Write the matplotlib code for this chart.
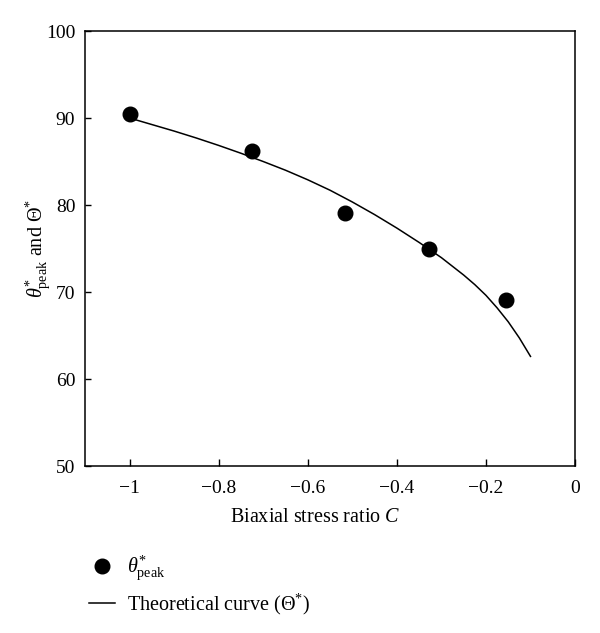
import numpy as np
import matplotlib
matplotlib.use("Agg")
import matplotlib.pyplot as plt

# measured peak angles
c_peak = [-1.0, -0.725, -0.516, -0.327, -0.156]
theta_peak = [90.5, 86.2, 79.1, 74.9, 69.1]

# theoretical curve
c_theory = [-1.0, -0.95, -0.9, -0.85, -0.8, -0.75, -0.7, -0.65, -0.6, -0.55,
            -0.5, -0.45, -0.4, -0.35, -0.3, -0.25, -0.225, -0.2, -0.175,
            -0.15, -0.125, -0.1]
theta_theory = [90.0, 89.25, 88.5, 87.7, 86.85, 85.95, 85.0, 84.0, 82.9, 81.7,
                80.35, 78.9, 77.35, 75.7, 73.95, 71.95, 70.85, 69.62, 68.18,
                66.58, 64.72, 62.6]

xticks = [-1, -0.8, -0.6, -0.4, -0.2, 0]
xticklabels = ["\u22121", "\u22120.8", "\u22120.6", "\u22120.4", "\u22120.2", "0"]
yticks = [50, 60, 70, 80, 90, 100]

plt.rcParams["font.family"] = "Liberation Serif"
plt.rcParams["mathtext.fontset"] = "custom"
plt.rcParams["mathtext.rm"] = "Liberation Serif"
plt.rcParams["mathtext.it"] = "Liberation Serif:italic"

fig = plt.figure(figsize=(6, 6.33), dpi=100)
ax = fig.add_axes([0.1417, 0.2638, 0.8167, 0.6872])

ax.plot(c_theory, theta_theory, color="black", lw=1.1, zorder=2,
        label=r"Theoretical curve ($\Theta^{*}$)")
ax.plot(c_peak, theta_peak, "o", color="black", ms=10.5, zorder=3,
        label=r"$\theta^{*}_{\mathrm{peak}}$")

ax.set_xlim(-1.1, 0)
ax.set_ylim(50, 100)
ax.set_xticks(xticks)
ax.set_xticklabels(xticklabels)
ax.set_yticks(yticks)
ax.tick_params(axis="x", direction="in", length=5, width=1, labelsize=14, pad=10)
ax.tick_params(axis="y", direction="in", length=4, width=1, labelsize=14, pad=7)
for s in ax.spines.values():
    s.set_linewidth(1.1)

ax.set_xlabel(r"Biaxial stress ratio $C$", fontsize=14.5)
ax.xaxis.set_label_coords(0.469, -0.097)
ax.set_ylabel(r"$\theta^{*}_{\mathrm{peak}}$ and $\Theta^{*}$", fontsize=14.5)
ax.yaxis.set_label_coords(-0.066, 0.5)

h, l = ax.get_legend_handles_labels()
fig.legend(h[::-1], l[::-1], loc="upper left", bbox_to_anchor=(0.135, 0.137),
           frameon=False, fontsize=14.5, handlelength=1.3, handletextpad=0.6,
           labelspacing=0.4, borderaxespad=0)

fig.savefig("out.png", dpi=100)
